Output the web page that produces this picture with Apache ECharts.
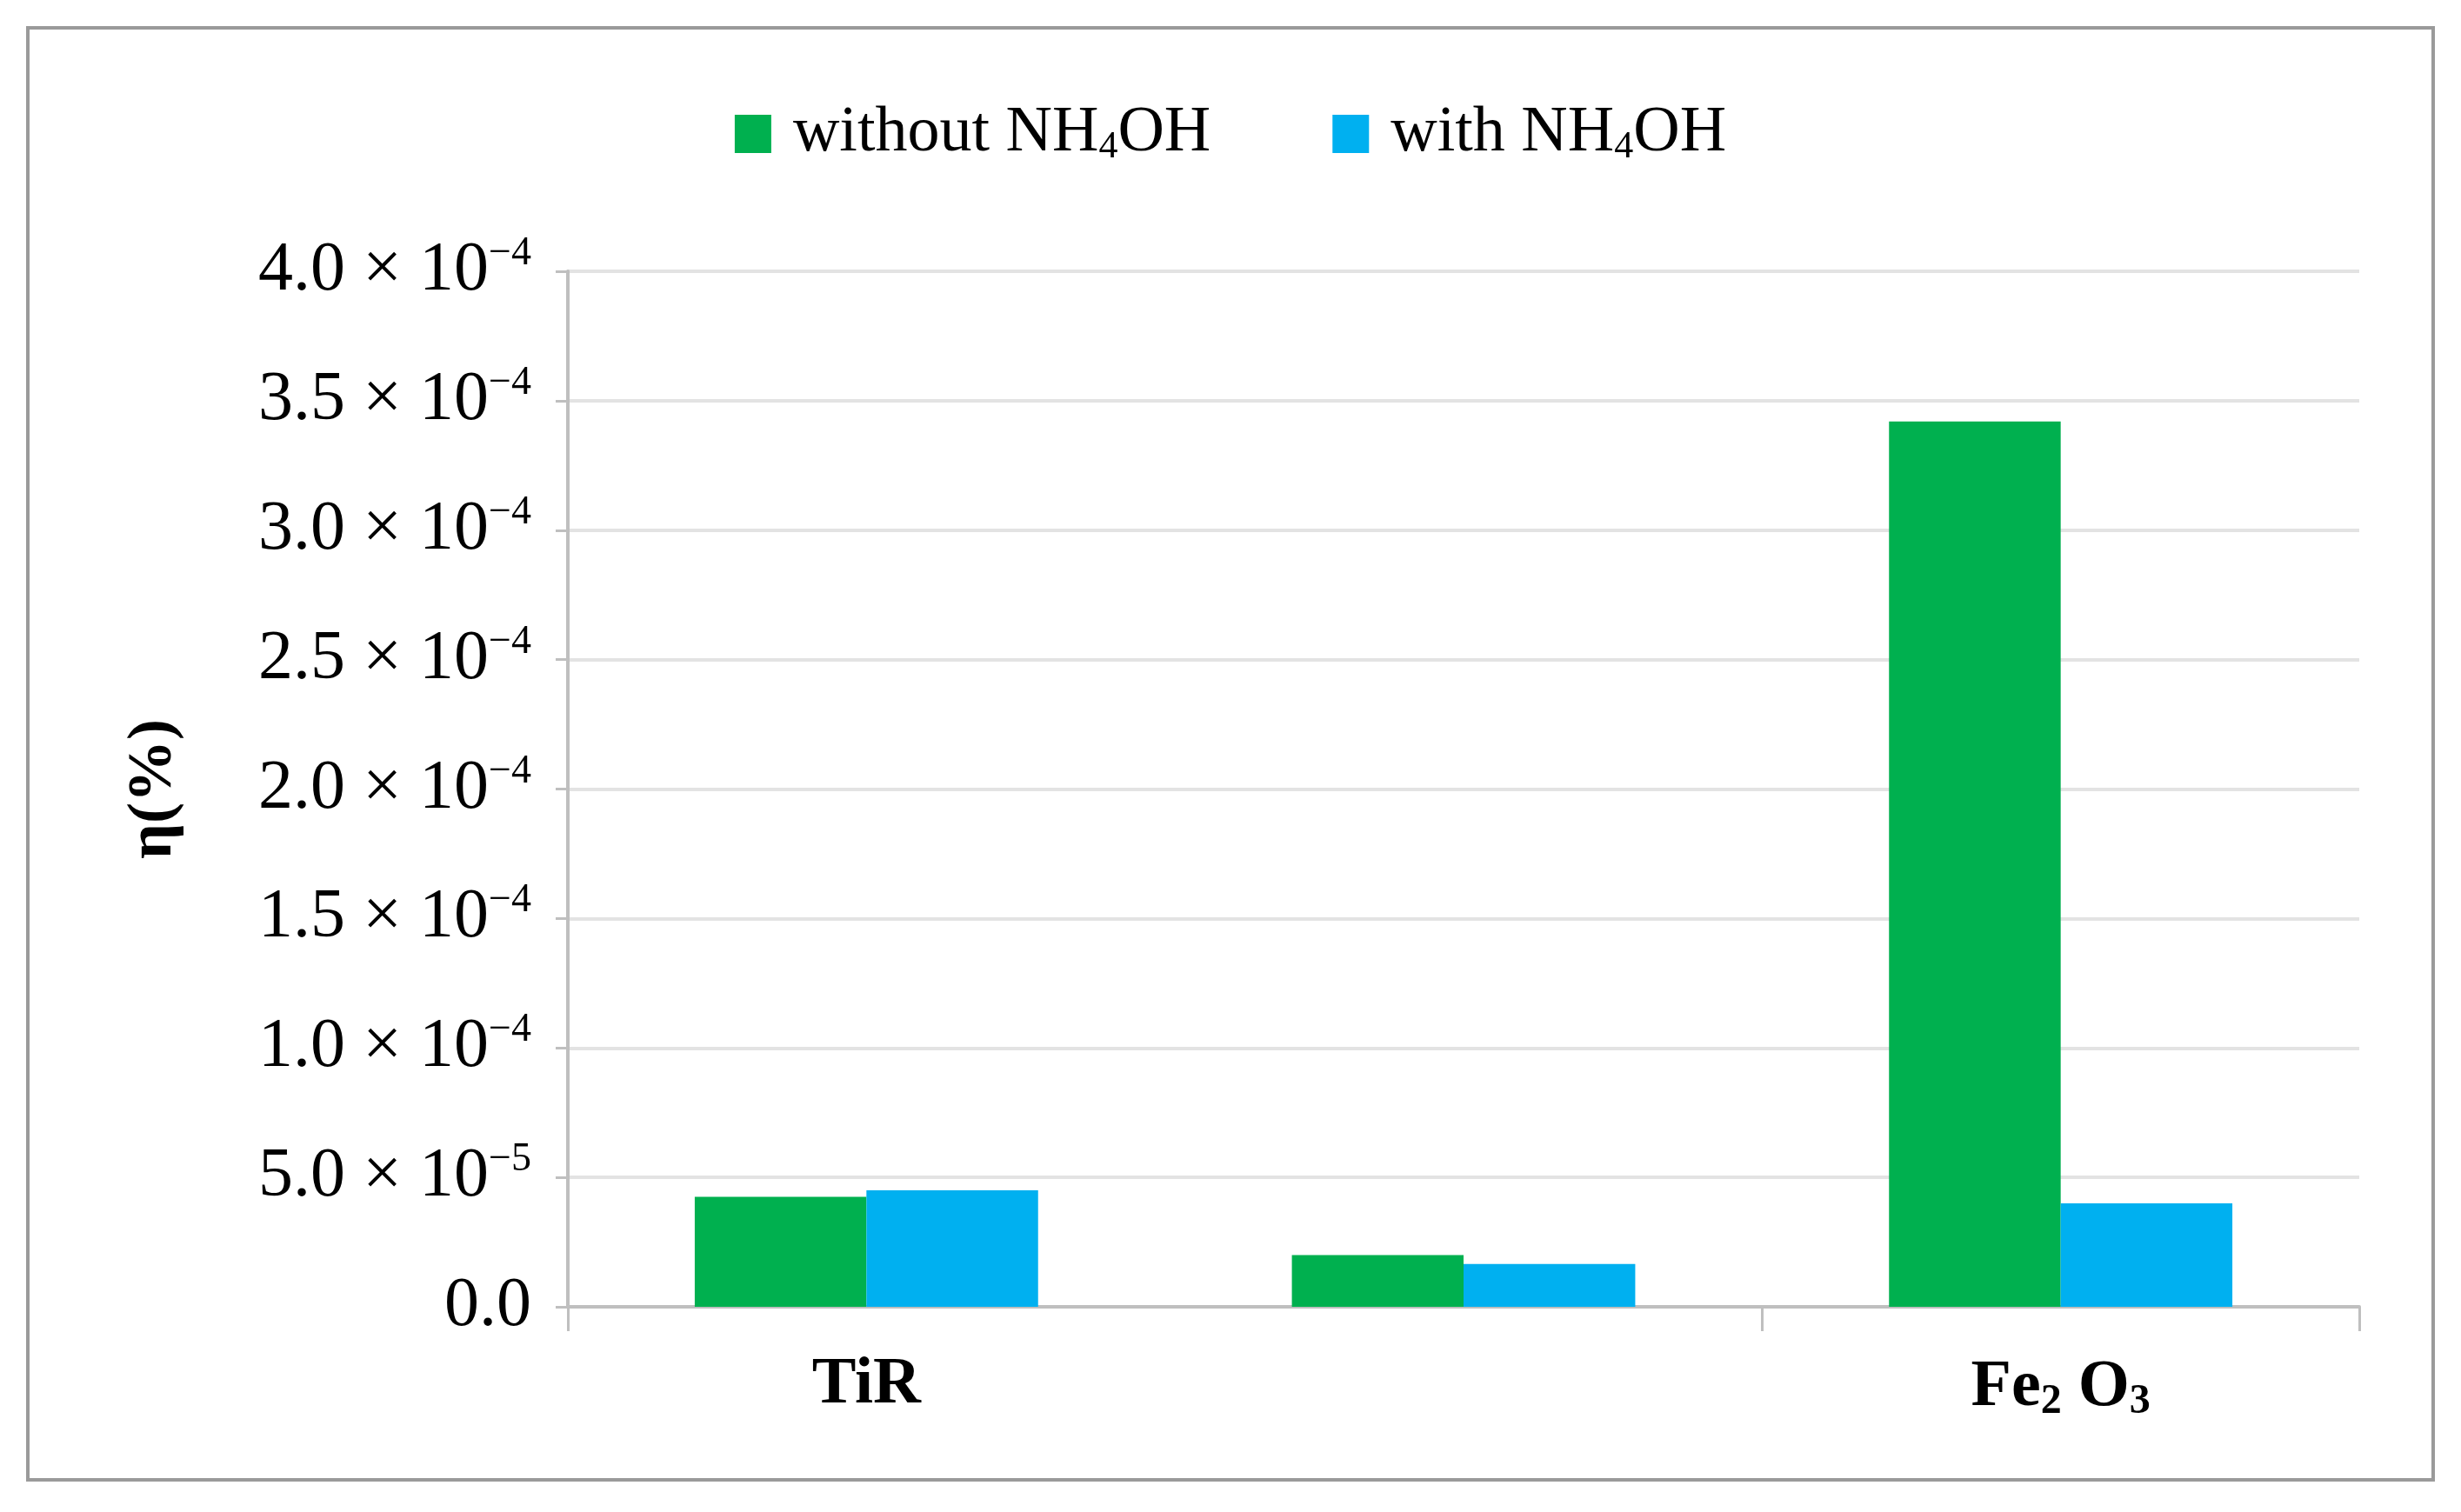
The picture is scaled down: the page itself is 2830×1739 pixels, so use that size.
<!DOCTYPE html>
<html lang="en">
<head>
    <meta charset="utf-8">
    <title>η</title>
    <script src="https://cdn.jsdelivr.net/npm/echarts@6/dist/echarts.min.js"></script>
    <style type="text/css">
        html, body { margin: 0; padding: 0; background: #ffffff; }
        #main { width: 2830px; height: 1739px; }
    </style>
</head>
<body>
<div id="main"></div>
<script type="text/javascript">
    // data
    let categories = ["TiR", "FeTiR", "Fe{sub|2} O{sub|3}"];
    let withoutNH4OH = [4.25e-5, 2.0e-5, 3.42e-4];
    let withNH4OH = [4.5e-5, 1.65e-5, 4.0e-5];
    let yTickLabels = {
        0: "0.0",
        0.5: "5.0 × 10{sup|−5}",
        1: "1.0 × 10{sup|−4}",
        1.5: "1.5 × 10{sup|−4}",
        2: "2.0 × 10{sup|−4}",
        2.5: "2.5 × 10{sup|−4}",
        3: "3.0 × 10{sup|−4}",
        3.5: "3.5 × 10{sup|−4}",
        4: "4.0 × 10{sup|−4}"
    };

    let serif = "'Liberation Serif', 'Times New Roman', serif";
    let myChart = echarts.init(document.getElementById("main"));

    myChart.setOption({
        backgroundColor: "#ffffff",
        animation: false,
        color: ["#00b04f", "#00b0f0"],
        graphic: [{
            type: "rect",
            shape: {x: 32, y: 32, width: 2766, height: 1670},
            style: {fill: "none", stroke: "#9a9a9a", lineWidth: 4},
            silent: true
        }],
        legend: {
            top: 112,
            left: "center",
            itemWidth: 42,
            itemHeight: 44,
            itemGap: 140,
            icon: "rect",
            formatter: function (name) {
                return name.replace("NH4OH", "NH{sub|4}OH");
            },
            textStyle: {
                fontFamily: serif,
                fontSize: 74,
                color: "#000000",
                padding: [0, 0, 0, 20],
                rich: {
                    sub: {fontFamily: serif, fontSize: 44, verticalAlign: "bottom", padding: [30, 0, 0, 0]}
                }
            }
        },
        grid: {left: 653, right: 117, top: 312, bottom: 236},
        xAxis: {
            type: "category",
            data: categories,
            axisLine: {lineStyle: {color: "#bfbfbf", width: 4}},
            axisTick: {show: true, length: 28, lineStyle: {color: "#bfbfbf", width: 3}},
            axisLabel: {
                margin: 52,
                fontFamily: serif,
                fontWeight: "bold",
                fontSize: 76,
                color: "#000000",
                rich: {
                    sub: {fontFamily: serif, fontWeight: "bold", fontSize: 48, verticalAlign: "bottom", padding: [34, 0, 0, 0]}
                }
            }
        },
        yAxis: {
            type: "value",
            min: 0,
            max: 4e-4,
            interval: 0.5e-4,
            name: "η(%)",
            nameLocation: "middle",
            nameGap: 440,
            nameRotate: 90,
            nameTextStyle: {fontFamily: serif, fontWeight: "bold", fontSize: 72, color: "#000000"},
            axisLine: {show: true, lineStyle: {color: "#bfbfbf", width: 4}},
            axisTick: {show: true, length: 14, lineStyle: {color: "#bfbfbf", width: 3}},
            splitLine: {lineStyle: {color: "#e3e3e3", width: 4}},
            axisLabel: {
                margin: 42,
                fontFamily: serif,
                fontSize: 80,
                color: "#000000",
                formatter: function (v) {
                    return yTickLabels[Math.round(v * 2e4) / 2];
                },
                rich: {
                    sup: {fontFamily: serif, fontSize: 46, verticalAlign: "top", padding: [0, 0, 40, 0]}
                }
            }
        },
        series: [
            {name: "without NH4OH", type: "bar", data: withoutNH4OH, barGap: "0%", barCategoryGap: "42.5%"},
            {name: "with NH4OH", type: "bar", data: withNH4OH, barGap: "0%", barCategoryGap: "42.5%"}
        ]
    });
</script>
</body>
</html>
